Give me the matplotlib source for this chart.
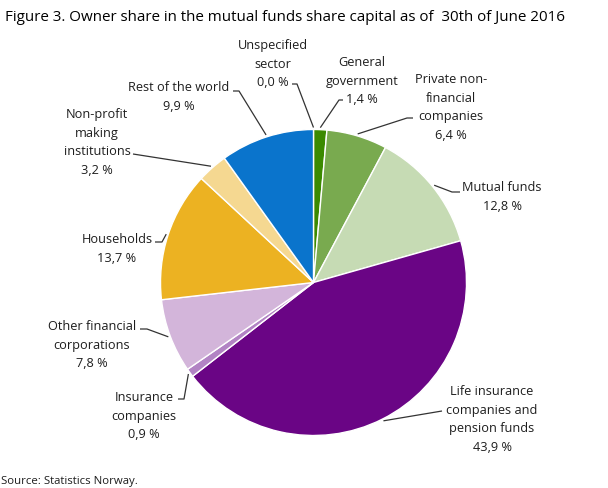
import numpy as np
import matplotlib
matplotlib.use("Agg")
import matplotlib.pyplot as plt

plt.rcParams['font.family'] = ['Open Sans', 'DejaVu Sans']

categories = ["Unspecified sector", "General government", "Private non-financial companies",
              "Mutual funds", "Life insurance companies and pension funds", "Insurance companies",
              "Other financial corporations", "Households", "Non-profit making institutions",
              "Rest of the world"]
values = [0.0, 1.4, 6.4, 12.8, 43.9, 0.9, 7.8, 13.7, 3.2, 9.9]
value_labels = ["0,0 %", "1,4 %", "6,4 %", "12,8 %", "43,9 %", "0,9 %", "7,8 %", "13,7 %", "3,2 %", "9,9 %"]
label_lines = [["Unspecified", "sector"], ["General", "government"], ["Private non-", "financial", "companies"],
               ["Mutual funds"], ["Life insurance", "companies and", "pension funds"], ["Insurance", "companies"],
               ["Other financial", "corporations"], ["Households"], ["Non-profit", "making", "institutions"],
               ["Rest of the world"]]
colors = ["#3b8a00", "#3b8a00", "#79aa4f", "#c6dbb4", "#6a0585", "#b283c4",
          "#d3b5da", "#ecb222", "#f5d891", "#0a74cc"]

title = "Figure 3. Owner share in the mutual funds share capital as of  30th of June 2016"
source = "Source: Statistics Norway."

W, H = 608, 489
fig = plt.figure(figsize=(W / 100, H / 100), dpi=100)
ax = fig.add_axes([0, 0, 1, 1])

cx, cy, R = 313.5, 283.5, 153
def Y(y):
    return H - y

wedges, _ = ax.pie(values, colors=colors, startangle=90, counterclock=False,
                   center=(cx, Y(cy)), radius=R,
                   wedgeprops=dict(edgecolor='white', linewidth=1.0))
ax.set_xlim(0, W)
ax.set_ylim(0, H)
ax.set_aspect('equal')
ax.axis('off')

# label layout: (center x, first line y, elbow points from text side)
layout = [
    (273, 46, [(292, 85), (297, 85)]),
    (362, 63, [(343, 101), (339, 101)]),
    (451, 80, [(413, 119), (407, 119)]),
    (502, 188, [(460, 193), (452, 193)]),
    (492, 392, [(442, 412)]),
    (144, 398, [(178, 400), (184, 400)]),
    (92, 327, [(140, 330), (147, 330)]),
    (117, 240, [(155, 243), (162, 243)]),
    (97, 115, [(133, 155)]),
    (179, 88, [(233, 92), (239, 92)]),
]
step = 18.5
fs = 9.2
cum = np.cumsum([0] + values)
for i, (tx, ty, elbow) in enumerate(layout):
    lines = label_lines[i] + [value_labels[i]]
    for k, line in enumerate(lines):
        ax.text(tx, Y(ty + k * step), line, ha='center', va='center', fontsize=fs, color='#1e1e1e')
    mid = 90 - (cum[i] + values[i] / 2) * 3.6
    px = cx + 155 * np.cos(np.radians(mid))
    py = cy - 155 * np.sin(np.radians(mid))
    pts = elbow + [(px, py)]
    ax.plot([p[0] for p in pts], [Y(p[1]) for p in pts], color='#333333', lw=0.9,
            solid_capstyle='butt')

ax.text(5, Y(18), title, ha='left', va='center', fontsize=10.9, color='#000000')
ax.text(1, Y(482), source, ha='left', va='center', fontsize=8.2, color='#1e1e1e')

fig.savefig("out.png", dpi=100)
